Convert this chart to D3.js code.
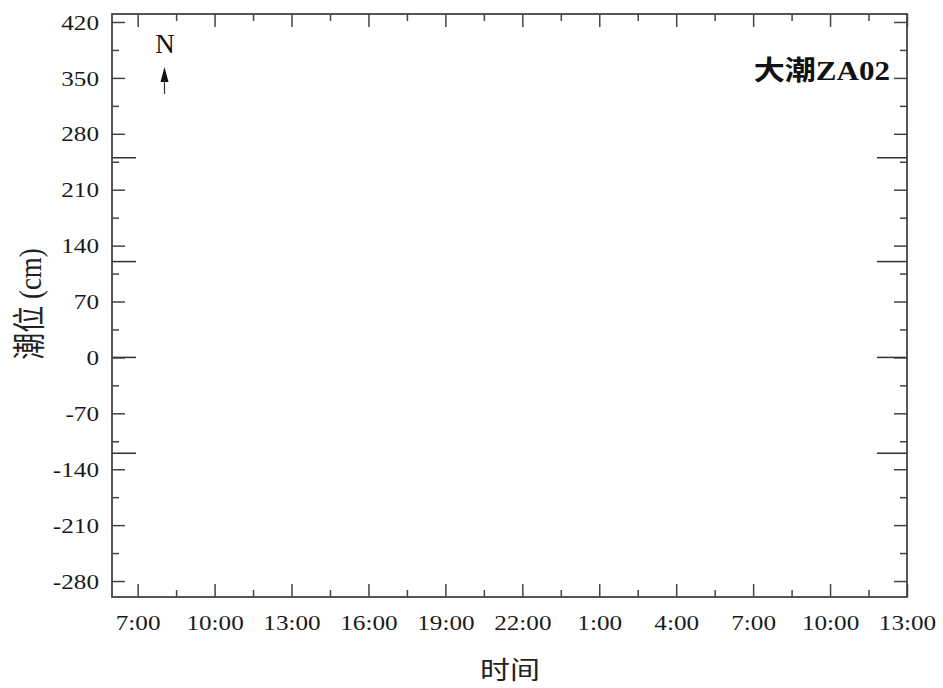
<!DOCTYPE html>
<html><head><meta charset="utf-8">
<script src="https://cdn.jsdelivr.net/npm/d3@7"></script>
<style>html,body{margin:0;padding:0;background:#fff;}</style>
</head><body>
<svg id="c" width="943" height="688"></svg>
<script>
// ---- data ----
const xStartHour = 6;            // 6:00 day 1
const xEndHour = 37;             // 13:00 day 2
const xTickHours = [7, 10, 13, 16, 19, 22, 25, 28, 31, 34, 37];
const xTickLabels = ["7:00","10:00","13:00","16:00","19:00","22:00","1:00","4:00","7:00","10:00","13:00"];
const xMinorHours = [8.5, 11.5, 14.5, 17.5, 20.5, 23.5, 26.5, 29.5, 32.5, 35.5];
const yDomain = [-300, 430];
const yTicks = [-280, -210, -140, -70, 0, 70, 140, 210, 280, 350, 420];
const yTickLabels = ["-280", "-210", "-140", "-70", "0", "70", "140", "210", "280", "350", "420"];
const yMinor = [-245, -175, -105, -35, 35, 105, 175, 245, 315, 385];
const refLevels = [250, 120, 0, -120];
const stationLabel = "大潮ZA02";
const xTitle = "时间";
const yTitle = "潮位 (cm)";

// ---- layout ----
const L = 112, R = 907, T = 14, B = 597;
const SX = 1.2;
const FONT = "'Liberation Serif','Times New Roman','Noto Sans CJK SC',serif";
const AX = "#444";

const svg = d3.select("#c");
const base = new Date(2000, 0, 1, 0, 0);
const hr = h => new Date(base.getTime() + h * 3600e3);
const x = d3.scaleTime().domain([hr(xStartHour), hr(xEndHour)]).range([L, R]);
const y = d3.scaleLinear().domain(yDomain).range([B, T]);

function styleAxis(g) {
  g.select(".domain").remove();
  g.selectAll(".tick line").attr("stroke", AX).attr("stroke-width", 1.5);
}

// bottom major with labels
const gb = svg.append("g").attr("transform", `translate(0,${B})`)
  .call(d3.axisBottom(x).tickValues(xTickHours.map(hr)).tickSize(-13).tickPadding(0)
    .tickFormat((d, i) => xTickLabels[i]).tickSizeOuter(0));
styleAxis(gb);
gb.selectAll(".tick text").attr("font-family", FONT).attr("font-size", 21).attr("fill", "#1a1a1a")
  .attr("y", 0).attr("dy", 0)
  .attr("transform", `translate(0,33) scale(${SX},1)`);
// bottom minor
styleAxis(svg.append("g").attr("transform", `translate(0,${B})`)
  .call(d3.axisBottom(x).tickValues(xMinorHours.map(hr)).tickSize(-7).tickFormat("")));
// top
styleAxis(svg.append("g").attr("transform", `translate(0,${T})`)
  .call(d3.axisTop(x).tickValues(xTickHours.map(hr)).tickSize(-13).tickFormat("")));
styleAxis(svg.append("g").attr("transform", `translate(0,${T})`)
  .call(d3.axisTop(x).tickValues(xMinorHours.map(hr)).tickSize(-7).tickFormat("")));

// left major with labels
const gl = svg.append("g").attr("transform", `translate(${L},0)`)
  .call(d3.axisLeft(y).tickValues(yTicks).tickSize(-13).tickPadding(0)
    .tickFormat((d, i) => yTickLabels[i]));
styleAxis(gl);
gl.selectAll(".tick text").attr("font-family", FONT).attr("font-size", 21).attr("fill", "#1a1a1a")
  .attr("x", 0).attr("dy", "0.34em").attr("text-anchor", "end")
  .attr("transform", `translate(-13,0) scale(${SX},1)`);
styleAxis(svg.append("g").attr("transform", `translate(${L},0)`)
  .call(d3.axisLeft(y).tickValues(yMinor).tickSize(-7).tickFormat("")));
// right
styleAxis(svg.append("g").attr("transform", `translate(${R},0)`)
  .call(d3.axisRight(y).tickValues(yTicks).tickSize(-13).tickFormat("")));
styleAxis(svg.append("g").attr("transform", `translate(${R},0)`)
  .call(d3.axisRight(y).tickValues(yMinor).tickSize(-7).tickFormat("")));

// reference level marks at both sides
const rg = svg.append("g");
refLevels.forEach(v => {
  rg.append("line").attr("x1", L).attr("x2", L + 24).attr("y1", y(v)).attr("y2", y(v))
    .attr("stroke", "#333").attr("stroke-width", 1.5);
  rg.append("line").attr("x1", R - 30).attr("x2", R).attr("y1", y(v)).attr("y2", y(v))
    .attr("stroke", "#333").attr("stroke-width", 1.5);
});

// frame
svg.append("rect").attr("x", L).attr("y", T).attr("width", R - L).attr("height", B - T)
  .attr("fill", "none").attr("stroke", AX).attr("stroke-width", 1.8);

// axis titles
svg.append("text").attr("font-family", FONT).attr("font-size", 25).attr("fill", "#222")
  .attr("text-anchor", "middle")
  .attr("transform", `translate(510,679) scale(${SX},1)`).text(xTitle);
svg.append("text").attr("font-family", FONT).attr("font-size", 27).attr("fill", "#222")
  .attr("text-anchor", "middle")
  .attr("transform", `translate(41,304) scale(${SX},1) rotate(-90)`).text(yTitle);

// station label
svg.append("text").attr("font-family", FONT).attr("font-size", 27).attr("font-weight", "bold")
  .attr("fill", "#111").attr("text-anchor", "end")
  .attr("transform", `translate(890,80) scale(1.15,1)`).text(stationLabel);

// north arrow
svg.append("text").attr("font-family", FONT).attr("font-size", 27).attr("fill", "#111")
  .attr("text-anchor", "middle").attr("x", 165).attr("y", 53).text("N");
svg.append("path").attr("d", "M164.5,67 L160.5,82 L168.5,82 Z").attr("fill", "#111");
svg.append("line").attr("x1", 164.5).attr("x2", 164.5).attr("y1", 80).attr("y2", 94)
  .attr("stroke", "#333").attr("stroke-width", 1.2);
</script>
</body></html>
